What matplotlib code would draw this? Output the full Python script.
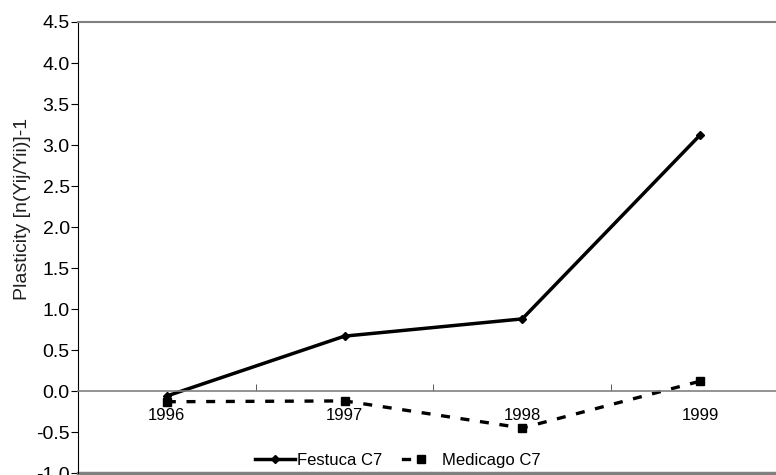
import matplotlib.pyplot as plt
from matplotlib.lines import Line2D

plt.rcParams['font.family'] = ['Liberation Sans', 'DejaVu Sans']

years = ['1996', '1997', '1998', '1999']
festuca = [-0.06, 0.67, 0.88, 3.12]
medicago = [-0.13, -0.12, -0.45, 0.12]
yticks = [-1.0, -0.5, 0.0, 0.5, 1.0, 1.5, 2.0, 2.5, 3.0, 3.5, 4.0, 4.5]

W, H = 776, 475
fig = plt.figure(figsize=(W / 100, H / 100), dpi=100)
ax = fig.add_axes([0.1005, 0.004, 0.916, 0.9497])

dash = (0, (2.7, 3.2))
x = list(range(len(years)))
ax.plot(x, festuca, color='black', lw=2.5, marker='D', ms=4.5)
ax.plot(x, medicago, color='black', lw=2.4, ls=dash, marker='s', ms=6)

ax.set_xlim(-0.5, len(years) - 0.5)
ax.set_ylim(-1.0, 4.5)
ax.set_yticks(yticks)
ax.set_yticklabels(['%.1f' % v for v in yticks], fontsize=14)

# category axis crosses at zero
ax.spines['bottom'].set_position(('data', 0))
ax.spines['bottom'].set_color('#808080')
ax.spines['bottom'].set_linewidth(1.2)
ax.spines['top'].set_color('#808080')
ax.spines['top'].set_linewidth(1.5)
ax.spines['right'].set_visible(False)
ax.spines['left'].set_color('black')
ax.axhline(-1.0, color='#808080', lw=2.5, clip_on=False)

ax.set_xticks(x)
ax.set_xticklabels(years, fontsize=12)
ax.set_xticks([i + 0.5 for i in x[:-1]], minor=True)
ax.tick_params(axis='x', which='major', length=0, pad=12)
ax.tick_params(axis='x', which='minor', length=5, direction='in', color='#404040')
ax.tick_params(axis='y', length=5, direction='out', color='black', pad=1)

ax.set_ylabel('Plasticity [n(Yij/Yii)]-1', fontsize=14, color='#202020')
ax.yaxis.set_label_coords(-0.066, 0.585)

# legend drawn like the spreadsheet one
ly = 1 - 459 / H
fig.add_artist(Line2D([255 / W, 295 / W], [ly, ly], color='black', lw=2.5))
fig.add_artist(Line2D([275 / W], [ly], color='black', marker='D', ms=4.5))
fig.text(297 / W, ly, 'Festuca C7', fontsize=12, va='center_baseline', ha='left')
fig.add_artist(Line2D([403 / W, 409 / W], [ly, ly], color='black', lw=2.4))
fig.add_artist(Line2D([421 / W], [ly], color='black', marker='s', ms=6))
fig.text(442 / W, ly, 'Medicago C7', fontsize=12, va='center_baseline', ha='left')

fig.savefig('out.png', dpi=100)
